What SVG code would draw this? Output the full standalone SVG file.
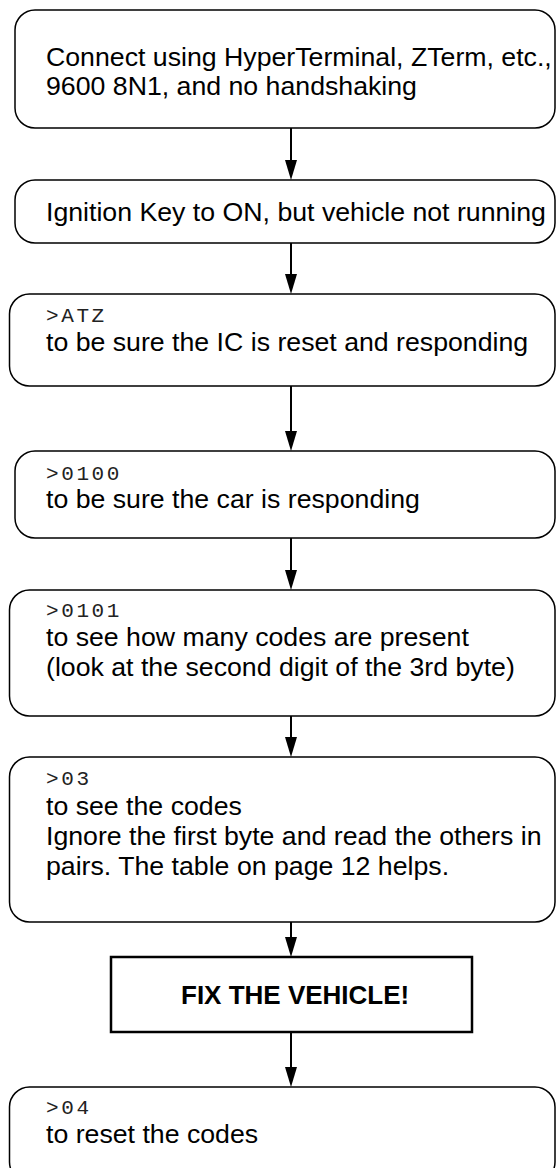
<svg xmlns="http://www.w3.org/2000/svg" width="556" height="1168" viewBox="0 0 556 1168">
<defs>
<style>
.box{fill:#fff;stroke:#000;stroke-width:1.5}
.fix{fill:#fff;stroke:#000;stroke-width:2.5}
.t{font-family:"Liberation Sans",Arial,sans-serif;font-size:26.7px;fill:#000}
.m{font-family:"Liberation Mono","Courier New",monospace;font-size:21px;letter-spacing:2.6px;fill:#222}
.b{font-family:"Liberation Sans",Arial,sans-serif;font-size:26px;font-weight:bold;fill:#000}
.c{stroke:#000;stroke-width:2;fill:none}
.h{fill:#000}
</style>
</defs>
<g id="connectors">
<line class="c" x1="291" y1="128" x2="291" y2="162"/>
<polygon class="h" points="285,160 297,160 291,180"/>
<line class="c" x1="291" y1="243" x2="291" y2="276"/>
<polygon class="h" points="285,274 297,274 291,294"/>
<line class="c" x1="291" y1="386" x2="291" y2="433"/>
<polygon class="h" points="285,431 297,431 291,451"/>
<line class="c" x1="291" y1="538" x2="291" y2="572"/>
<polygon class="h" points="285,570 297,570 291,590"/>
<line class="c" x1="291" y1="716" x2="291" y2="739"/>
<polygon class="h" points="285,737 297,737 291,757"/>
<line class="c" x1="291" y1="922" x2="291" y2="939"/>
<polygon class="h" points="285,937 297,937 291,957"/>
<line class="c" x1="291" y1="1032" x2="291" y2="1069"/>
<polygon class="h" points="285,1067 297,1067 291,1087"/>
</g>
<g id="n1">
<rect class="box" x="15" y="10" width="540" height="118" rx="20"/>
<text class="t" x="46" y="66">Connect using HyperTerminal, ZTerm, etc.,</text>
<text class="t" x="46" y="95">9600 8N1, and no handshaking</text>
</g>
<g id="n2">
<rect class="box" x="15" y="180" width="540" height="63" rx="20"/>
<text class="t" x="46" y="221">Ignition Key to ON, but vehicle not running</text>
</g>
<g id="n3">
<rect class="box" x="9.5" y="294" width="545.5" height="92" rx="20"/>
<text class="m" x="46" y="322">&gt;ATZ</text>
<text class="t" x="46" y="351">to be sure the IC is reset and responding</text>
</g>
<g id="n4">
<rect class="box" x="15" y="451" width="540" height="87" rx="20"/>
<text class="m" x="46" y="480">&gt;0100</text>
<text class="t" x="46" y="508">to be sure the car is responding</text>
</g>
<g id="n5">
<rect class="box" x="9.5" y="590" width="545.5" height="126" rx="20"/>
<text class="m" x="46" y="617">&gt;0101</text>
<text class="t" x="46" y="646">to see how many codes are present</text>
<text class="t" x="46" y="676">(look at the second digit of the 3rd byte)</text>
</g>
<g id="n6">
<rect class="box" x="9.5" y="757" width="545.5" height="165" rx="20"/>
<text class="m" x="46" y="785">&gt;03</text>
<text class="t" x="46" y="815">to see the codes</text>
<text class="t" x="46" y="845">Ignore the first byte and read the others in</text>
<text class="t" x="46" y="875">pairs. The table on page 12 helps.</text>
</g>
<g id="n7">
<rect class="fix" x="111" y="957" width="361" height="75"/>
<text class="b" x="181" y="1004">FIX THE VEHICLE!</text>
</g>
<g id="n8">
<rect class="box" x="9.5" y="1087" width="545.5" height="95" rx="20"/>
<text class="m" x="46" y="1114">&gt;04</text>
<text class="t" x="46" y="1143">to reset the codes</text>
</g>
</svg>
